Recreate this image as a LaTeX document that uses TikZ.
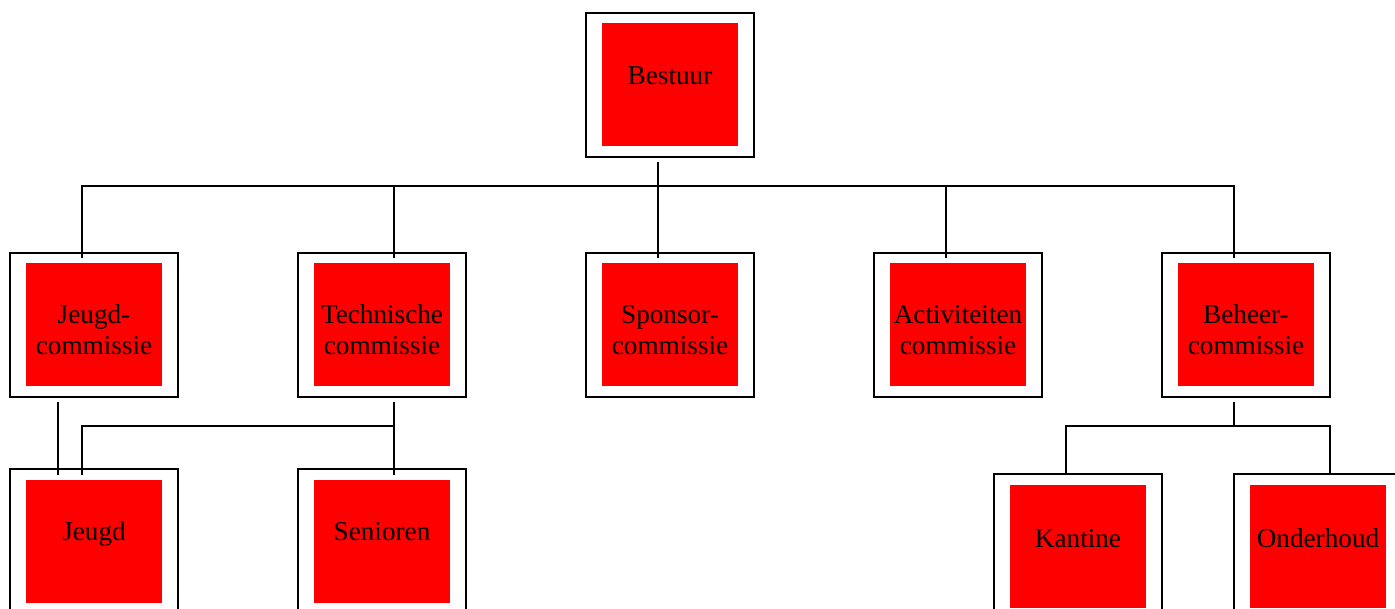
\documentclass[tikz,border=0pt]{standalone}
\usepackage{fontspec}
\setmainfont{Liberation Serif}
\usetikzlibrary{calc}
\definecolor{boxred}{RGB}{255,0,0}
\tikzset{
  x=1pt, y=-1pt,
  outerbox/.style={draw=black, line width=2pt, minimum width=168pt, minimum height=144pt, inner sep=0pt, outer sep=0pt},
  innerbox/.style={fill=boxred, minimum width=136pt, minimum height=123pt, inner sep=0pt, outer sep=0pt},
  lbl/.style={anchor=base, align=center, inner sep=0pt, text=black, font=\fontsize{27.2}{31}\selectfont},
  conn/.style={draw=black, line width=2pt}
}
\begin{document}
\begin{tikzpicture}
\useasboundingbox (0,0) rectangle (1395,609);
\clip (0,0) rectangle (1395,609);
% units
\node[outerbox] (bestuur) at (670,85) {};
\node[innerbox] (bestuur-in) at (bestuur.center) {};
\node[lbl] (bestuur-t) at (670,85) {Bestuur};

\node[outerbox] (jc) at (94,325) {};
\node[innerbox] (jc-in) at (jc.center) {};
\node[lbl] (jc-t) at (94,355) {Jeugd-\\commissie};

\node[outerbox] (tc) at (382,325) {};
\node[innerbox] (tc-in) at (tc.center) {};
\node[lbl] (tc-t) at (382,355) {Technische\\commissie};

\node[outerbox] (sc) at (670,325) {};
\node[innerbox] (sc-in) at (sc.center) {};
\node[lbl] (sc-t) at (670,355) {Sponsor-\\commissie};

\node[outerbox] (ac) at (958,325) {};
\node[innerbox] (ac-in) at (ac.center) {};
\node[lbl] (ac-t) at (958,355) {Activiteiten\\commissie};

\node[outerbox] (bc) at (1246,325) {};
\node[innerbox] (bc-in) at (bc.center) {};
\node[lbl] (bc-t) at (1246,355) {Beheer-\\commissie};

\node[outerbox] (jeugd) at (94,541) {};
\node[innerbox] (jeugd-in) at (jeugd.center) {};
\node[lbl] (jeugd-t) at (94,540) {Jeugd};

\node[outerbox] (sen) at (382,541) {};
\node[innerbox] (sen-in) at (sen.center) {};
\node[lbl] (sen-t) at (382,540) {Senioren};

\node[outerbox] (kan) at (1078,546) {};
\node[innerbox] (kan-in) at (kan.center) {};
\node[lbl] (kan-t) at (1078,547) {Kantine};

\node[outerbox] (ond) at (1318,546) {};
\node[innerbox] (ond-in) at (ond.center) {};
\node[lbl] (ond-t) at (1318,547) {Onderhoud};

% connectors
\draw[conn] ($(bestuur.south)+(-12,5)$) -- ($(sc.north)+(-12,5)$);
\draw[conn] ($(jc.north)+(-12,5)$) -- ++(0,-72) -| ($(bc.north)+(-12,5)$);
\draw[conn] ($(tc.north)+(12,5)$) -- ++(0,-72);
\draw[conn] ($(ac.north)+(-12,5)$) -- ++(0,-72);

\draw[conn] ($(jc.south)+(-36,5)$) -- ($(jeugd.north)+(-36,6)$);
\draw[conn] ($(tc.south)+(12,5)$) -- ($(sen.north)+(12,6)$);
\draw[conn] ($(tc.south)+(12,29)$) -| ($(jeugd.north)+(-12,6)$);

\draw[conn] ($(bc.south)+(-12,5)$) -- ++(0,24);
\draw[conn] ($(kan.north)+(-12,1)$) |- ($(bc.south)+(-12,29)$) -| ($(ond.north)+(12,1)$);
\end{tikzpicture}
\end{document}
